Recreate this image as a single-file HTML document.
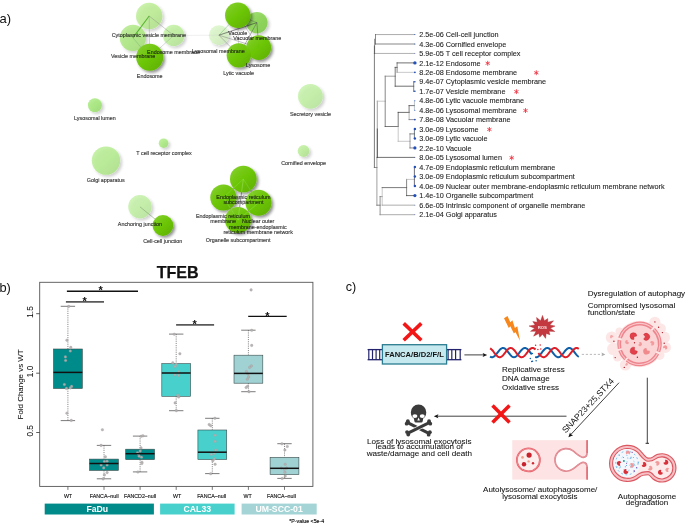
<!DOCTYPE html>
<html lang="en"><head><meta charset="utf-8"><title>Figure</title>
<style>
html,body{margin:0;padding:0;background:#fff;}
body{width:685px;height:523px;overflow:hidden;}
svg{display:block;}
text{font-family:"Liberation Sans",Arial,Helvetica,sans-serif;fill:#1a1a1a;}
.nl{font-size:5.38px;fill:#111;fill-opacity:0.85;stroke:#111;stroke-width:0.18px;stroke-opacity:0.6;}
.dl{font-size:7.26px;fill:#1c1c1c;stroke:#1c1c1c;stroke-width:0.12px;stroke-opacity:0.7;}
.ct{font-size:8px;fill:#111;stroke:#111;stroke-width:0.1px;stroke-opacity:0.6;}
.tk{font-size:5.3px;fill:#111;stroke:#111;stroke-width:0.18px;stroke-opacity:0.7;}
.ax{font-size:8.3px;fill:#111;stroke:#111;stroke-width:0.1px;stroke-opacity:0.6;}
.pl{font-size:13px;fill:#111;}
.bar{font-size:8.7px;font-weight:bold;fill:#fff;}
</style></head><body>
<svg width="685" height="523" viewBox="0 0 685 523">
<defs>
<filter id="sh" x="-30%" y="-30%" width="170%" height="170%">
<feGaussianBlur in="SourceAlpha" stdDeviation="1.5"/><feOffset dx="1.7" dy="1.8"/>
<feComponentTransfer><feFuncA type="linear" slope="0.24"/></feComponentTransfer>
<feMerge><feMergeNode/><feMergeNode in="SourceGraphic"/></feMerge>
</filter>
<filter id="shd" x="-30%" y="-30%" width="170%" height="170%">
<feGaussianBlur in="SourceAlpha" stdDeviation="1.4"/><feOffset dx="1.6" dy="1.9"/>
<feComponentTransfer><feFuncA type="linear" slope="0.45"/></feComponentTransfer>
<feMerge><feMergeNode/><feMergeNode in="SourceGraphic"/></feMerge>
</filter>
<linearGradient id="hd" x1="0.15" y1="0.1" x2="0.85" y2="0.9"><stop offset="0" stop-color="#fff" stop-opacity="0.13"/><stop offset="0.5" stop-color="#fff" stop-opacity="0"/><stop offset="0.5" stop-color="#000" stop-opacity="0"/><stop offset="1" stop-color="#000" stop-opacity="0.09"/></linearGradient>
<linearGradient id="hl" x1="0.15" y1="0.1" x2="0.85" y2="0.9"><stop offset="0" stop-color="#fff" stop-opacity="0.10"/><stop offset="0.5" stop-color="#fff" stop-opacity="0"/><stop offset="0.5" stop-color="#000" stop-opacity="0"/><stop offset="1" stop-color="#000" stop-opacity="0.04"/></linearGradient>
</defs>
<rect width="685" height="523" fill="#fff"/>

<text class="pl" x="-0.6" y="23">a)</text>
<text class="pl" x="-0.6" y="292.4" style="font-size:12.8px">b)</text>
<text class="pl" x="345.8" y="291.0" style="font-size:12.6px">c)</text>
<g id="network">
<g filter="url(#sh)">
<circle cx="149.2" cy="16.0" r="13.2" fill="rgb(181,236,136)" opacity="0.78"/>
<circle cx="132.9" cy="37.9" r="13.1" fill="rgb(167,231,118)" opacity="0.78"/>
<circle cx="173.7" cy="35.5" r="10.7" fill="rgb(184,238,149)" opacity="0.78"/>
<circle cx="218.9" cy="35.2" r="10.0" fill="rgb(213,245,192)" opacity="0.78"/>
<circle cx="256.9" cy="22.6" r="10.7" fill="rgb(131,211,73)" opacity="0.85"/>
<circle cx="94.9" cy="105.2" r="7.0" fill="rgb(156,231,108)" opacity="0.78"/>
<circle cx="163.6" cy="143.2" r="4.8" fill="rgb(161,232,115)" opacity="0.78"/>
<circle cx="106.0" cy="160.6" r="14.2" fill="rgb(174,236,133)" opacity="0.78"/>
<circle cx="310.4" cy="96.3" r="12.4" fill="rgb(188,240,156)" opacity="0.78"/>
<circle cx="303.6" cy="151" r="5.9" fill="rgb(179,236,141)" opacity="0.78"/>
<circle cx="139.95" cy="206.8" r="11.7" fill="rgb(188,240,156)" opacity="0.78"/>
</g><g>
<circle cx="149.2" cy="16.0" r="13.2" fill="url(#hl)"/>
<circle cx="132.9" cy="37.9" r="13.1" fill="url(#hl)"/>
<circle cx="173.7" cy="35.5" r="10.7" fill="url(#hl)"/>
<circle cx="218.9" cy="35.2" r="10.0" fill="url(#hl)"/>
<circle cx="256.9" cy="22.6" r="10.7" fill="url(#hl)"/>
<circle cx="94.9" cy="105.2" r="7.0" fill="url(#hl)"/>
<circle cx="163.6" cy="143.2" r="4.8" fill="url(#hl)"/>
<circle cx="106.0" cy="160.6" r="14.2" fill="url(#hl)"/>
<circle cx="310.4" cy="96.3" r="12.4" fill="url(#hl)"/>
<circle cx="303.6" cy="151" r="5.9" fill="url(#hl)"/>
<circle cx="139.95" cy="206.8" r="11.7" fill="url(#hl)"/>
</g>
<g fill="none">
<line x1="149.2" y1="16.0" x2="132.9" y2="37.9" stroke="#4fae28" stroke-width="1.1" opacity="0.9"/>
<line x1="149.2" y1="16.0" x2="173.7" y2="35.5" stroke="#777" stroke-width="0.5" opacity="0.7"/>
<line x1="149.2" y1="16.0" x2="149.7" y2="57.3" stroke="#888" stroke-width="0.5" opacity="0.7"/>
<line x1="132.9" y1="37.9" x2="149.7" y2="57.3" stroke="#6a6" stroke-width="0.5" opacity="0.7"/>
<line x1="173.7" y1="35.5" x2="149.7" y2="57.3" stroke="#999" stroke-width="0.5" opacity="0.7"/>
<line x1="132.9" y1="37.9" x2="173.7" y2="35.5" stroke="#9c9" stroke-width="0.3" opacity="0.4"/>
<line x1="173.7" y1="35.5" x2="218.9" y2="35.2" stroke="#ccc" stroke-width="0.4" opacity="0.8"/>
<line x1="218.9" y1="35.2" x2="237.75" y2="15.3" stroke="#5a5" stroke-width="0.5" opacity="0.8"/>
<line x1="218.9" y1="35.2" x2="256.9" y2="22.6" stroke="#333" stroke-width="0.7" opacity="0.8"/>
<line x1="218.9" y1="35.2" x2="258.7" y2="47.6" stroke="#666" stroke-width="0.5" opacity="0.8"/>
<line x1="218.9" y1="35.2" x2="238.8" y2="55.35" stroke="#777" stroke-width="0.5" opacity="0.8"/>
<line x1="237.75" y1="15.3" x2="256.9" y2="22.6" stroke="#555" stroke-width="0.5" opacity="0.7"/>
<line x1="237.75" y1="15.3" x2="258.7" y2="47.6" stroke="#666" stroke-width="0.4" opacity="0.7"/>
<line x1="237.75" y1="15.3" x2="238.8" y2="55.35" stroke="#777" stroke-width="0.4" opacity="0.7"/>
<line x1="256.9" y1="22.6" x2="258.7" y2="47.6" stroke="#555" stroke-width="0.6" opacity="0.8"/>
<line x1="256.9" y1="22.6" x2="238.8" y2="55.35" stroke="#555" stroke-width="0.6" opacity="0.8"/>
<line x1="258.7" y1="47.6" x2="238.8" y2="55.35" stroke="#666" stroke-width="0.5" opacity="0.7"/>
<line x1="139.95" y1="206.8" x2="162.9" y2="225.5" stroke="#7a9a6a" stroke-width="0.6" opacity="0.9"/>
<line x1="243.3" y1="179.0" x2="223.4" y2="197.5" stroke="#555" stroke-width="0.5" opacity="0.8"/>
<line x1="243.3" y1="179.0" x2="258.5" y2="202.8" stroke="#555" stroke-width="0.5" opacity="0.8"/>
<line x1="243.3" y1="179.0" x2="238.0" y2="220.0" stroke="#444" stroke-width="0.6" opacity="0.9"/>
<line x1="223.4" y1="197.5" x2="258.5" y2="202.8" stroke="#777" stroke-width="0.4" opacity="0.7"/>
<line x1="223.4" y1="197.5" x2="238.0" y2="220.0" stroke="#555" stroke-width="0.5" opacity="0.8"/>
<line x1="258.5" y1="202.8" x2="238.0" y2="220.0" stroke="#555" stroke-width="0.5" opacity="0.8"/>
</g>
<g filter="url(#shd)">
<circle cx="149.7" cy="57.3" r="13.5" fill="rgb(106,198,0)" opacity="0.96"/>
<circle cx="237.75" cy="15.3" r="12.7" fill="rgb(106,198,0)" opacity="0.96"/>
<circle cx="238.8" cy="55.35" r="12.1" fill="rgb(106,198,0)" opacity="0.96"/>
<circle cx="258.7" cy="47.6" r="12.4" fill="rgb(106,198,0)" opacity="0.96"/>
<circle cx="162.9" cy="225.5" r="10.4" fill="rgb(106,198,0)" opacity="0.96"/>
<circle cx="243.3" cy="179.0" r="13.3" fill="rgb(106,198,0)" opacity="0.96"/>
<circle cx="223.4" cy="197.5" r="13.1" fill="rgb(106,198,0)" opacity="0.96"/>
<circle cx="258.5" cy="202.8" r="13.0" fill="rgb(106,198,0)" opacity="0.96"/>
<circle cx="238.0" cy="220.0" r="13.0" fill="rgb(106,198,0)" opacity="0.96"/>
</g><g>
<circle cx="149.7" cy="57.3" r="13.5" fill="url(#hd)"/>
<circle cx="237.75" cy="15.3" r="12.7" fill="url(#hd)"/>
<circle cx="238.8" cy="55.35" r="12.1" fill="url(#hd)"/>
<circle cx="258.7" cy="47.6" r="12.4" fill="url(#hd)"/>
<circle cx="162.9" cy="225.5" r="10.4" fill="url(#hd)"/>
<circle cx="243.3" cy="179.0" r="13.3" fill="url(#hd)"/>
<circle cx="223.4" cy="197.5" r="13.1" fill="url(#hd)"/>
<circle cx="258.5" cy="202.8" r="13.0" fill="url(#hd)"/>
<circle cx="238.0" cy="220.0" r="13.0" fill="url(#hd)"/>
</g>
<clipPath id="erclip"><circle cx="243.3" cy="179.0" r="13.0"/><circle cx="223.4" cy="197.5" r="12.799999999999999"/><circle cx="258.5" cy="202.8" r="12.7"/><circle cx="238.0" cy="220.0" r="12.7"/></clipPath>
<g fill="none" clip-path="url(#erclip)">
<line x1="243.3" y1="179.0" x2="223.4" y2="197.5" stroke="#8fdc50" stroke-width="0.6" opacity="0.7"/>
<line x1="243.3" y1="179.0" x2="258.5" y2="202.8" stroke="#8fdc50" stroke-width="0.6" opacity="0.7"/>
<line x1="243.3" y1="179.0" x2="238.0" y2="220.0" stroke="#a8e878" stroke-width="0.5" opacity="0.9"/>
<line x1="223.4" y1="197.5" x2="258.5" y2="202.8" stroke="#8fdc50" stroke-width="0.4" opacity="0.7"/>
<line x1="223.4" y1="197.5" x2="238.0" y2="220.0" stroke="#8fdc50" stroke-width="0.6" opacity="0.9"/>
<line x1="258.5" y1="202.8" x2="238.0" y2="220.0" stroke="#8fdc50" stroke-width="0.6" opacity="0.9"/>
</g>
<g class="nl">
<text class="nl" x="148.9" y="37.1" text-anchor="middle">Cytoplasmic vesicle membrane</text>
<text class="nl" x="147.1" y="53.9" text-anchor="start">Endosome membrane</text>
<text class="nl" x="133.1" y="58.2" text-anchor="middle">Vesicle membrane</text>
<text class="nl" x="149.7" y="77.7" text-anchor="middle">Endosome</text>
<text class="nl" x="237.75" y="34.8" text-anchor="middle">Vacuole</text>
<text class="nl" x="257.3" y="40.4" text-anchor="middle">Vacuolar membrane</text>
<text class="nl" x="218.4" y="52.8" text-anchor="middle">Lysosomal membrane</text>
<text class="nl" x="258.0" y="67.3" text-anchor="middle">Lysosome</text>
<text class="nl" x="238.6" y="75.0" text-anchor="middle">Lytic vacuole</text>
<text class="nl" x="94.9" y="119.7" text-anchor="middle">Lysosomal lumen</text>
<text class="nl" x="164.0" y="155.2" text-anchor="middle">T cell receptor complex</text>
<text class="nl" x="105.8" y="181.7" text-anchor="middle">Golgi apparatus</text>
<text class="nl" x="310.5" y="116.1" text-anchor="middle">Secretory vesicle</text>
<text class="nl" x="303.6" y="164.8" text-anchor="middle">Cornified envelope</text>
<text class="nl" x="139.95" y="226.1" text-anchor="middle">Anchoring junction</text>
<text class="nl" x="162.7" y="243.2" text-anchor="middle">Cell-cell junction</text>
<text class="nl" x="243.4" y="199.1" text-anchor="middle">Endoplasmic reticulum</text>
<text class="nl" x="243.4" y="204.2" text-anchor="middle">subcompartment</text>
<text class="nl" x="223.0" y="217.9" text-anchor="middle">Endoplasmic reticulum</text>
<text class="nl" x="223.1" y="222.6" text-anchor="middle">membrane</text>
<text class="nl" x="258.1" y="222.6" text-anchor="middle">Nuclear outer</text>
<text class="nl" x="257.9" y="228.8" text-anchor="middle">membrane-endoplasmic</text>
<text class="nl" x="258.2" y="233.9" text-anchor="middle">reticulum membrane network</text>
<text class="nl" x="238.2" y="241.7" text-anchor="middle">Organelle subcompartment</text>
</g>
</g>
<g id="dendro">
<g class="dl">
<text class="dl" x="419.2" y="37.15">2.5e-06 Cell-cell junction</text>
<text class="dl" x="419.2" y="46.60">4.3e-06 Cornified envelope</text>
<text class="dl" x="419.2" y="56.05">5.9e-05 T cell receptor complex</text>
<text class="dl" x="419.2" y="65.50">2.1e-12 Endosome</text>
<text class="dl" x="419.2" y="74.95">8.2e-08 Endosome membrane</text>
<text class="dl" x="419.2" y="84.40">9.4e-07 Cytoplasmic vesicle membrane</text>
<text class="dl" x="419.2" y="93.85">1.7e-07 Vesicle membrane</text>
<text class="dl" x="419.2" y="103.30">4.8e-06 Lytic vacuole membrane</text>
<text class="dl" x="419.2" y="112.75">4.8e-06 Lysosomal membrane</text>
<text class="dl" x="419.2" y="122.20">7.8e-08 Vacuolar membrane</text>
<text class="dl" x="419.2" y="131.65">3.0e-09 Lysosome</text>
<text class="dl" x="419.2" y="141.10">3.0e-09 Lytic vacuole</text>
<text class="dl" x="419.2" y="150.55">2.2e-10 Vacuole</text>
<text class="dl" x="419.2" y="160.00">8.0e-05 Lysosomal lumen</text>
<text class="dl" x="419.2" y="169.55">4.7e-09 Endoplasmic reticulum membrane</text>
<text class="dl" x="419.2" y="179.10">3.0e-09 Endoplasmic reticulum subcompartment</text>
<text class="dl" x="419.2" y="188.65">4.0e-09 Nuclear outer membrane-endoplasmic reticulum membrane network</text>
<text class="dl" x="419.2" y="198.20">1.4e-10 Organelle subcompartment</text>
<text class="dl" x="419.2" y="207.75">6.6e-05 Intrinsic component of organelle membrane</text>
<text class="dl" x="419.2" y="217.30">2.1e-04 Golgi apparatus</text>
</g>
<g fill="none" stroke-linecap="square">
<line x1="375.50" y1="34.55" x2="414.60" y2="34.55" stroke="#8a8a8a" stroke-width="0.7"/>
<line x1="375.50" y1="44.00" x2="414.60" y2="44.00" stroke="#555" stroke-width="0.7"/>
<line x1="375.50" y1="34.55" x2="375.50" y2="44.00" stroke="#555" stroke-width="0.7"/>
<line x1="374.40" y1="53.45" x2="414.60" y2="53.45" stroke="#a8a8a8" stroke-width="0.9"/>
<line x1="374.60" y1="39.27" x2="374.60" y2="53.45" stroke="#666" stroke-width="0.7"/>
<line x1="374.40" y1="46.00" x2="374.40" y2="167.50" stroke="#444" stroke-width="0.7"/>
<line x1="374.40" y1="167.50" x2="376.90" y2="167.50" stroke="#666" stroke-width="0.7"/>
<line x1="377.30" y1="101.20" x2="377.30" y2="157.40" stroke="#777" stroke-width="0.7"/>
<line x1="377.30" y1="129.00" x2="377.30" y2="157.40" stroke="#333" stroke-width="0.7"/>
<line x1="376.90" y1="157.40" x2="376.90" y2="205.20" stroke="#777" stroke-width="0.7"/>
<line x1="377.30" y1="101.20" x2="385.20" y2="101.20" stroke="#b0b0b0" stroke-width="0.7"/>
<line x1="385.20" y1="76.20" x2="385.20" y2="126.50" stroke="#555" stroke-width="0.7"/>
<line x1="385.20" y1="76.20" x2="395.20" y2="76.20" stroke="#777" stroke-width="0.7"/>
<line x1="395.20" y1="67.40" x2="395.20" y2="86.20" stroke="#444" stroke-width="0.7"/>
<line x1="395.20" y1="67.40" x2="397.10" y2="67.40" stroke="#444" stroke-width="0.7"/>
<line x1="397.10" y1="62.90" x2="397.10" y2="72.35" stroke="#555" stroke-width="0.7"/>
<line x1="397.10" y1="62.90" x2="414.60" y2="62.90" stroke="#333" stroke-width="0.7"/>
<line x1="397.10" y1="72.35" x2="414.60" y2="72.35" stroke="#b0b0b0" stroke-width="0.7"/>
<line x1="395.20" y1="86.20" x2="413.70" y2="86.20" stroke="#333" stroke-width="0.7"/>
<line x1="413.70" y1="81.80" x2="413.70" y2="91.25" stroke="#456" stroke-width="0.7"/>
<line x1="413.70" y1="81.80" x2="414.60" y2="81.80" stroke="#456" stroke-width="0.7"/>
<line x1="413.70" y1="91.25" x2="414.60" y2="91.25" stroke="#456" stroke-width="0.7"/>
<line x1="385.20" y1="126.50" x2="398.20" y2="126.50" stroke="#444" stroke-width="0.7"/>
<line x1="398.20" y1="112.40" x2="398.20" y2="126.50" stroke="#444" stroke-width="0.7"/>
<line x1="398.20" y1="126.50" x2="398.20" y2="141.30" stroke="#b0b0b0" stroke-width="0.7"/>
<line x1="398.20" y1="112.40" x2="409.10" y2="112.40" stroke="#333" stroke-width="0.7"/>
<line x1="409.10" y1="105.60" x2="409.10" y2="112.40" stroke="#444" stroke-width="0.7"/>
<line x1="409.10" y1="112.40" x2="409.10" y2="119.60" stroke="#999" stroke-width="0.7"/>
<line x1="409.10" y1="105.60" x2="414.40" y2="105.60" stroke="#444" stroke-width="0.7"/>
<line x1="414.40" y1="100.70" x2="414.40" y2="110.15" stroke="#789" stroke-width="0.5"/>
<line x1="409.10" y1="119.60" x2="414.60" y2="119.60" stroke="#667" stroke-width="0.7"/>
<line x1="398.20" y1="141.30" x2="410.00" y2="141.30" stroke="#b0b0b0" stroke-width="0.7"/>
<line x1="410.00" y1="133.90" x2="410.00" y2="147.95" stroke="#777" stroke-width="0.7"/>
<line x1="410.00" y1="133.90" x2="414.40" y2="133.90" stroke="#555" stroke-width="0.7"/>
<line x1="414.40" y1="129.05" x2="414.40" y2="138.50" stroke="#345" stroke-width="0.7"/>
<line x1="410.00" y1="147.95" x2="414.60" y2="147.95" stroke="#556" stroke-width="0.7"/>
<line x1="377.30" y1="157.40" x2="414.60" y2="157.40" stroke="#333" stroke-width="0.7"/>
<line x1="376.90" y1="205.20" x2="380.10" y2="205.20" stroke="#555" stroke-width="0.7"/>
<line x1="380.10" y1="196.60" x2="380.10" y2="214.70" stroke="#666" stroke-width="0.7"/>
<line x1="380.10" y1="214.70" x2="414.60" y2="214.70" stroke="#888" stroke-width="0.7"/>
<line x1="380.10" y1="196.60" x2="382.20" y2="196.60" stroke="#777" stroke-width="0.7"/>
<line x1="382.20" y1="187.60" x2="382.20" y2="205.15" stroke="#b0b0b0" stroke-width="0.7"/>
<line x1="382.20" y1="205.15" x2="414.60" y2="205.15" stroke="#888" stroke-width="0.7"/>
<line x1="382.20" y1="187.60" x2="406.60" y2="187.60" stroke="#444" stroke-width="0.7"/>
<line x1="406.60" y1="179.40" x2="406.60" y2="195.60" stroke="#555" stroke-width="0.7"/>
<line x1="406.60" y1="179.40" x2="414.40" y2="179.40" stroke="#b0b0b0" stroke-width="0.7"/>
<line x1="414.40" y1="166.95" x2="414.40" y2="186.05" stroke="#334" stroke-width="0.7"/>
<line x1="406.60" y1="195.60" x2="414.60" y2="195.60" stroke="#333" stroke-width="0.7"/>
</g>
<circle cx="414.90000000000003" cy="34.55" r="0.5" fill="#2350b8"/>
<circle cx="414.90000000000003" cy="44.00" r="0.5" fill="#2350b8"/>
<circle cx="414.90000000000003" cy="53.45" r="0.4" fill="#2350b8"/>
<circle cx="414.90000000000003" cy="62.90" r="1.7" fill="#2350b8"/>
<circle cx="414.90000000000003" cy="72.35" r="0.9" fill="#2350b8"/>
<circle cx="414.90000000000003" cy="81.80" r="0.7" fill="#2350b8"/>
<circle cx="414.90000000000003" cy="91.25" r="0.8" fill="#2350b8"/>
<circle cx="414.90000000000003" cy="100.70" r="0.5" fill="#2350b8"/>
<circle cx="414.90000000000003" cy="110.15" r="0.5" fill="#2350b8"/>
<circle cx="414.90000000000003" cy="119.60" r="0.9" fill="#2350b8"/>
<circle cx="414.90000000000003" cy="129.05" r="1.2" fill="#2350b8"/>
<circle cx="414.90000000000003" cy="138.50" r="1.2" fill="#2350b8"/>
<circle cx="414.90000000000003" cy="147.95" r="1.6" fill="#2350b8"/>
<circle cx="414.90000000000003" cy="157.40" r="0.4" fill="#2350b8"/>
<circle cx="414.90000000000003" cy="166.95" r="1.2" fill="#2350b8"/>
<circle cx="414.90000000000003" cy="176.50" r="1.2" fill="#2350b8"/>
<circle cx="414.90000000000003" cy="186.05" r="1.2" fill="#2350b8"/>
<circle cx="414.90000000000003" cy="195.60" r="1.6" fill="#2350b8"/>
<circle cx="414.90000000000003" cy="205.15" r="0.4" fill="#2350b8"/>
<circle cx="414.90000000000003" cy="214.70" r="0.4" fill="#2350b8"/>
<g stroke="#ee3040" stroke-width="0.85" stroke-linecap="round"><line x1="487.70" y1="61.25" x2="487.70" y2="65.35"/><line x1="489.48" y1="62.27" x2="485.92" y2="64.32"/><line x1="489.48" y1="64.32" x2="485.92" y2="62.27"/></g>
<g stroke="#ee3040" stroke-width="0.85" stroke-linecap="round"><line x1="536.30" y1="70.70" x2="536.30" y2="74.80"/><line x1="538.08" y1="71.72" x2="534.52" y2="73.78"/><line x1="538.08" y1="73.78" x2="534.52" y2="71.72"/></g>
<g stroke="#ee3040" stroke-width="0.85" stroke-linecap="round"><line x1="516.40" y1="89.60" x2="516.40" y2="93.70"/><line x1="518.18" y1="90.62" x2="514.62" y2="92.68"/><line x1="518.18" y1="92.68" x2="514.62" y2="90.62"/></g>
<g stroke="#ee3040" stroke-width="0.85" stroke-linecap="round"><line x1="525.50" y1="108.50" x2="525.50" y2="112.60"/><line x1="527.28" y1="109.52" x2="523.72" y2="111.58"/><line x1="527.28" y1="111.58" x2="523.72" y2="109.52"/></g>
<g stroke="#ee3040" stroke-width="0.85" stroke-linecap="round"><line x1="489.40" y1="127.40" x2="489.40" y2="131.50"/><line x1="491.18" y1="128.43" x2="487.62" y2="130.48"/><line x1="491.18" y1="130.48" x2="487.62" y2="128.43"/></g>
<g stroke="#ee3040" stroke-width="0.85" stroke-linecap="round"><line x1="511.70" y1="155.75" x2="511.70" y2="159.85"/><line x1="513.48" y1="156.77" x2="509.92" y2="158.82"/><line x1="513.48" y1="158.82" x2="509.92" y2="156.77"/></g>
</g>
<g id="boxplot">
<text x="177.7" y="278.1" text-anchor="middle" style="font-size:16.1px;font-weight:bold;fill:#111;stroke:#111;stroke-width:0.25px">TFEB</text>
<rect x="39.7" y="282.3" width="273.2" height="204.09999999999997" fill="none" stroke="#555" stroke-width="0.9"/>
<line x1="36.2" y1="313.7" x2="39.7" y2="313.7" stroke="#333" stroke-width="0.8"/>
<text class="ax" transform="translate(32.9,312.0) rotate(-90)" text-anchor="middle">1.5</text>
<line x1="36.2" y1="373.2" x2="39.7" y2="373.2" stroke="#333" stroke-width="0.8"/>
<text class="ax" transform="translate(32.9,371.5) rotate(-90)" text-anchor="middle">1.0</text>
<line x1="36.2" y1="432.5" x2="39.7" y2="432.5" stroke="#333" stroke-width="0.8"/>
<text class="ax" transform="translate(32.9,430.8) rotate(-90)" text-anchor="middle">0.5</text>
<text class="ax" transform="translate(22.9,384.4) rotate(-90)" text-anchor="middle" style="font-size:7.95px">Fold Change vs WT</text>
<line x1="67.9" y1="486.4" x2="67.9" y2="489.9" stroke="#555" stroke-width="0.8"/>
<text class="tk" x="68.0" y="497.8" text-anchor="middle">WT</text>
<line x1="104.0" y1="486.4" x2="104.0" y2="489.9" stroke="#555" stroke-width="0.8"/>
<text class="tk" x="104.2" y="497.8" text-anchor="middle">FANCA–null</text>
<line x1="140.1" y1="486.4" x2="140.1" y2="489.9" stroke="#555" stroke-width="0.8"/>
<text class="tk" x="140.0" y="497.8" text-anchor="middle">FANCD2–null</text>
<line x1="176.2" y1="486.4" x2="176.2" y2="489.9" stroke="#555" stroke-width="0.8"/>
<text class="tk" x="177.2" y="497.8" text-anchor="middle">WT</text>
<line x1="212.3" y1="486.4" x2="212.3" y2="489.9" stroke="#555" stroke-width="0.8"/>
<text class="tk" x="211.6" y="497.8" text-anchor="middle">FANCA–null</text>
<line x1="248.4" y1="486.4" x2="248.4" y2="489.9" stroke="#555" stroke-width="0.8"/>
<text class="tk" x="247.6" y="497.8" text-anchor="middle">WT</text>
<line x1="284.5" y1="486.4" x2="284.5" y2="489.9" stroke="#555" stroke-width="0.8"/>
<text class="tk" x="281.4" y="497.8" text-anchor="middle">FANCA–null</text>
<line x1="67.9" y1="306.3" x2="67.9" y2="349.0" stroke="#555" stroke-width="0.7" stroke-dasharray="1.1 1.1"/>
<line x1="67.9" y1="388.5" x2="67.9" y2="420.6" stroke="#555" stroke-width="0.7" stroke-dasharray="1.1 1.1"/>
<line x1="60.7" y1="306.3" x2="75.1" y2="306.3" stroke="#444" stroke-width="0.7"/>
<line x1="60.7" y1="420.6" x2="75.1" y2="420.6" stroke="#444" stroke-width="0.7"/>
<rect x="53.5" y="349.0" width="28.8" height="39.5" fill="#008b8b" stroke="#3a4a4a" stroke-width="0.6"/>
<line x1="104.0" y1="445.4" x2="104.0" y2="459.1" stroke="#555" stroke-width="0.7" stroke-dasharray="1.1 1.1"/>
<line x1="104.0" y1="470.4" x2="104.0" y2="478.8" stroke="#555" stroke-width="0.7" stroke-dasharray="1.1 1.1"/>
<line x1="96.8" y1="445.4" x2="111.2" y2="445.4" stroke="#444" stroke-width="0.7"/>
<line x1="96.8" y1="478.8" x2="111.2" y2="478.8" stroke="#444" stroke-width="0.7"/>
<rect x="89.6" y="459.1" width="28.8" height="11.3" fill="#008b8b" stroke="#3a4a4a" stroke-width="0.6"/>
<line x1="140.1" y1="436.1" x2="140.1" y2="449.2" stroke="#555" stroke-width="0.7" stroke-dasharray="1.1 1.1"/>
<line x1="140.1" y1="459.6" x2="140.1" y2="471.9" stroke="#555" stroke-width="0.7" stroke-dasharray="1.1 1.1"/>
<line x1="132.9" y1="436.1" x2="147.3" y2="436.1" stroke="#444" stroke-width="0.7"/>
<line x1="132.9" y1="471.9" x2="147.3" y2="471.9" stroke="#444" stroke-width="0.7"/>
<rect x="125.7" y="449.2" width="28.8" height="10.4" fill="#008b8b" stroke="#3a4a4a" stroke-width="0.6"/>
<line x1="176.2" y1="334.1" x2="176.2" y2="363.6" stroke="#555" stroke-width="0.7" stroke-dasharray="1.1 1.1"/>
<line x1="176.2" y1="396.3" x2="176.2" y2="410.7" stroke="#555" stroke-width="0.7" stroke-dasharray="1.1 1.1"/>
<line x1="169.0" y1="334.1" x2="183.4" y2="334.1" stroke="#444" stroke-width="0.7"/>
<line x1="169.0" y1="410.7" x2="183.4" y2="410.7" stroke="#444" stroke-width="0.7"/>
<rect x="161.8" y="363.6" width="28.8" height="32.7" fill="#48d1cc" stroke="#3a4a4a" stroke-width="0.6"/>
<line x1="212.3" y1="418.3" x2="212.3" y2="430.0" stroke="#555" stroke-width="0.7" stroke-dasharray="1.1 1.1"/>
<line x1="212.3" y1="459.5" x2="212.3" y2="473.6" stroke="#555" stroke-width="0.7" stroke-dasharray="1.1 1.1"/>
<line x1="205.1" y1="418.3" x2="219.5" y2="418.3" stroke="#444" stroke-width="0.7"/>
<line x1="205.1" y1="473.6" x2="219.5" y2="473.6" stroke="#444" stroke-width="0.7"/>
<rect x="197.9" y="430.0" width="28.8" height="29.5" fill="#48d1cc" stroke="#3a4a4a" stroke-width="0.6"/>
<line x1="248.4" y1="330.2" x2="248.4" y2="355.2" stroke="#555" stroke-width="0.7" stroke-dasharray="1.1 1.1"/>
<line x1="248.4" y1="383.2" x2="248.4" y2="391.7" stroke="#555" stroke-width="0.7" stroke-dasharray="1.1 1.1"/>
<line x1="241.2" y1="330.2" x2="255.6" y2="330.2" stroke="#444" stroke-width="0.7"/>
<line x1="241.2" y1="391.7" x2="255.6" y2="391.7" stroke="#444" stroke-width="0.7"/>
<rect x="234.0" y="355.2" width="28.8" height="28.0" fill="#a0d2d4" stroke="#3a4a4a" stroke-width="0.6"/>
<line x1="284.5" y1="443.7" x2="284.5" y2="457.3" stroke="#555" stroke-width="0.7" stroke-dasharray="1.1 1.1"/>
<line x1="284.5" y1="474.6" x2="284.5" y2="478.4" stroke="#555" stroke-width="0.7" stroke-dasharray="1.1 1.1"/>
<line x1="277.3" y1="443.7" x2="291.7" y2="443.7" stroke="#444" stroke-width="0.7"/>
<line x1="277.3" y1="478.4" x2="291.7" y2="478.4" stroke="#444" stroke-width="0.7"/>
<rect x="270.1" y="457.3" width="28.8" height="17.3" fill="#a0d2d4" stroke="#3a4a4a" stroke-width="0.6"/>
<g fill="#b6b0b0" stroke="#9a9696" stroke-width="0.3" opacity="0.92">
<circle cx="68.7" cy="306.4" r="1.3"/>
<circle cx="66.9" cy="340.2" r="1.3"/>
<circle cx="70.8" cy="347.4" r="1.3"/>
<circle cx="70.3" cy="351" r="1.3"/>
<circle cx="65.4" cy="356.9" r="1.3"/>
<circle cx="65.6" cy="360.5" r="1.3"/>
<circle cx="64.4" cy="384.5" r="1.3"/>
<circle cx="71.6" cy="386.4" r="1.3"/>
<circle cx="70.3" cy="387.9" r="1.3"/>
<circle cx="66.4" cy="388.4" r="1.3"/>
<circle cx="66.9" cy="413.2" r="1.3"/>
<circle cx="71.3" cy="420.4" r="1.3"/>
<circle cx="102.4" cy="429.8" r="1.3"/>
<circle cx="101.1" cy="445.4" r="1.3"/>
<circle cx="105.4" cy="456.8" r="1.3"/>
<circle cx="104.4" cy="461.5" r="1.3"/>
<circle cx="107.1" cy="461.2" r="1.3"/>
<circle cx="101.1" cy="464.9" r="1.3"/>
<circle cx="107.1" cy="464.9" r="1.3"/>
<circle cx="103.7" cy="467.9" r="1.3"/>
<circle cx="107.1" cy="472.6" r="1.3"/>
<circle cx="104.4" cy="474.9" r="1.3"/>
<circle cx="103.1" cy="478.9" r="1.3"/>
<circle cx="141.2" cy="436.3" r="1.3"/>
<circle cx="142.9" cy="435.8" r="1.3"/>
<circle cx="141" cy="447.9" r="1.3"/>
<circle cx="140.2" cy="451.1" r="1.3"/>
<circle cx="137.5" cy="452.8" r="1.3"/>
<circle cx="138.6" cy="454.2" r="1.3"/>
<circle cx="139.2" cy="456.2" r="1.3"/>
<circle cx="141.5" cy="457.2" r="1.3"/>
<circle cx="141.9" cy="462.2" r="1.3"/>
<circle cx="141.9" cy="463.5" r="1.3"/>
<circle cx="137.9" cy="472" r="1.3"/>
<circle cx="174.3" cy="334.2" r="1.3"/>
<circle cx="179.9" cy="353.7" r="1.3"/>
<circle cx="172.8" cy="362.9" r="1.3"/>
<circle cx="176.3" cy="364.4" r="1.3"/>
<circle cx="175.1" cy="366.5" r="1.3"/>
<circle cx="178.7" cy="371.8" r="1.3"/>
<circle cx="174.9" cy="374.8" r="1.3"/>
<circle cx="178.7" cy="375.4" r="1.3"/>
<circle cx="177.8" cy="395.2" r="1.3"/>
<circle cx="178.7" cy="397" r="1.3"/>
<circle cx="175.1" cy="402.9" r="1.3"/>
<circle cx="176.3" cy="410.6" r="1.3"/>
<circle cx="214.9" cy="418.3" r="1.3"/>
<circle cx="209.2" cy="424.6" r="1.3"/>
<circle cx="210.7" cy="425.7" r="1.3"/>
<circle cx="215.1" cy="435.2" r="1.3"/>
<circle cx="215.1" cy="441.4" r="1.3"/>
<circle cx="215.7" cy="450" r="1.3"/>
<circle cx="214.3" cy="453.3" r="1.3"/>
<circle cx="211.3" cy="454.5" r="1.3"/>
<circle cx="214.3" cy="458.9" r="1.3"/>
<circle cx="212.8" cy="460.7" r="1.3"/>
<circle cx="215.1" cy="464.3" r="1.3"/>
<circle cx="210.7" cy="473.7" r="1.3"/>
<circle cx="251.7" cy="330.3" r="1.3"/>
<circle cx="251.7" cy="345.4" r="1.3"/>
<circle cx="251.4" cy="365.9" r="1.3"/>
<circle cx="249.6" cy="367.4" r="1.3"/>
<circle cx="246.4" cy="371.5" r="1.3"/>
<circle cx="247.9" cy="373.9" r="1.3"/>
<circle cx="248.7" cy="376.9" r="1.3"/>
<circle cx="247.3" cy="379.2" r="1.3"/>
<circle cx="247.6" cy="386.3" r="1.3"/>
<circle cx="246.1" cy="387.5" r="1.3"/>
<circle cx="249" cy="391.7" r="1.3"/>
<circle cx="251.1" cy="289.9" r="1.3"/>
<circle cx="281.9" cy="443.8" r="1.3"/>
<circle cx="287.3" cy="446.5" r="1.3"/>
<circle cx="284.9" cy="450" r="1.3"/>
<circle cx="285.2" cy="464.3" r="1.3"/>
<circle cx="281.3" cy="468.1" r="1.3"/>
<circle cx="286.7" cy="468.1" r="1.3"/>
<circle cx="284.3" cy="469.3" r="1.3"/>
<circle cx="284.9" cy="472.3" r="1.3"/>
<circle cx="285.2" cy="476.1" r="1.3"/>
<circle cx="282.2" cy="478.5" r="1.3"/>
</g>
<line x1="53.5" y1="372.4" x2="82.3" y2="372.4" stroke="#111" stroke-width="1.5"/>
<line x1="89.6" y1="463.5" x2="118.4" y2="463.5" stroke="#111" stroke-width="1.5"/>
<line x1="125.7" y1="453.7" x2="154.5" y2="453.7" stroke="#111" stroke-width="1.5"/>
<line x1="161.8" y1="373.0" x2="190.6" y2="373.0" stroke="#111" stroke-width="1.5"/>
<line x1="197.9" y1="452.2" x2="226.7" y2="452.2" stroke="#111" stroke-width="1.5"/>
<line x1="234.0" y1="373.4" x2="262.8" y2="373.4" stroke="#111" stroke-width="1.5"/>
<line x1="270.1" y1="468.3" x2="298.9" y2="468.3" stroke="#111" stroke-width="1.5"/>
<line x1="66.9" y1="291.25" x2="138" y2="291.25" stroke="#111" stroke-width="1.3"/>
<text x="100.7" y="294.0" text-anchor="middle" style="font-size:11px;font-weight:bold;fill:#111">*</text>
<line x1="65.9" y1="301.9" x2="104.0" y2="301.9" stroke="#5a5a5a" stroke-width="1.7"/>
<text x="84.6" y="305.1" text-anchor="middle" style="font-size:11px;font-weight:bold;fill:#111">*</text>
<line x1="176.1" y1="324.8" x2="214.1" y2="324.8" stroke="#5a5a5a" stroke-width="1.7"/>
<text x="194.7" y="328.0" text-anchor="middle" style="font-size:11px;font-weight:bold;fill:#111">*</text>
<line x1="248.2" y1="316.3" x2="286.7" y2="316.3" stroke="#111" stroke-width="1.3"/>
<text x="267.3" y="319.5" text-anchor="middle" style="font-size:11px;font-weight:bold;fill:#111">*</text>
<rect x="44.7" y="503.6" width="109.2" height="10.9" fill="#008b8b"/>
<text class="bar" x="97.3" y="512.4" text-anchor="middle">FaDu</text>
<rect x="160.1" y="503.6" width="74.5" height="10.9" fill="#48d1cc"/>
<text class="bar" x="197.3" y="512.4" text-anchor="middle">CAL33</text>
<rect x="241.6" y="503.6" width="75.1" height="10.9" fill="#a4d4d6"/>
<text class="bar" x="279.1" y="512.4" text-anchor="middle">UM-SCC-01</text>
<text x="289.3" y="522.6" style="font-size:5.25px;fill:#111;stroke:#111;stroke-width:0.15px">*P-value &lt;5e-4</text>
</g><g id="panelc">
<g stroke="#f21616" stroke-width="3.6" stroke-linecap="butt"><line x1="403.7" y1="323.40000000000003" x2="421.3" y2="340.2"/><line x1="403.7" y1="340.2" x2="421.3" y2="323.40000000000003"/></g>
<g stroke="#24246e" stroke-width="1.3" fill="none"><line x1="367.6" y1="349.6" x2="382.4" y2="349.6"/><line x1="367.6" y1="359.7" x2="382.4" y2="359.7"/>
<line x1="368.80" y1="349.6" x2="368.80" y2="359.7" stroke-width="1.2"/>
<line x1="372.50" y1="349.6" x2="372.50" y2="359.7" stroke-width="1.2"/>
<line x1="376.10" y1="349.6" x2="376.10" y2="359.7" stroke-width="1.2"/>
<line x1="379.70" y1="349.6" x2="379.70" y2="359.7" stroke-width="1.2"/>
</g>
<g stroke="#24246e" stroke-width="1.3" fill="none"><line x1="446.6" y1="349.6" x2="461.4" y2="349.6"/><line x1="446.6" y1="359.7" x2="461.4" y2="359.7"/>
<line x1="448.10" y1="349.6" x2="448.10" y2="359.7" stroke-width="1.2"/>
<line x1="451.80" y1="349.6" x2="451.80" y2="359.7" stroke-width="1.2"/>
<line x1="455.60" y1="349.6" x2="455.60" y2="359.7" stroke-width="1.2"/>
<line x1="460.20" y1="349.6" x2="460.20" y2="359.7" stroke-width="1.2"/>
</g>
<rect x="382.4" y="344.7" width="64.2" height="19.3" fill="#c6e9ef" stroke="#2a7d90" stroke-width="1.3"/>
<text x="414.4" y="357.2" text-anchor="middle" style="font-size:7.57px;font-weight:bold;fill:#111">FANCA/B/D2/F/L</text>
<line x1="464.4" y1="354.9" x2="484" y2="354.9" stroke="#111" stroke-width="0.8"/>
<path d="M487.2 354.9 L482.6 352.9 L483.6 354.9 L482.6 356.9 Z" fill="#111"/>
<polyline points="490.10,356.52 490.50,356.77 490.90,356.96 491.30,357.10 491.70,357.18 492.10,357.20 492.51,357.16 492.91,357.05 493.31,356.89 493.71,356.68 494.11,356.41 494.51,356.08 494.91,355.72 495.31,355.31 495.71,354.87 496.11,354.39 496.52,353.90 496.92,353.38 497.32,352.86 497.72,352.33 498.12,351.81 498.52,351.29 498.92,350.80 499.32,350.32 499.72,349.88 500.12,349.47 500.52,349.11 500.93,348.79 501.33,348.52 501.73,348.30 502.13,348.14 502.53,348.04 502.93,348.00 503.33,348.02 503.73,348.10 504.13,348.24 504.53,348.44 504.94,348.69 505.34,348.99 505.74,349.34 506.14,349.73 506.54,350.17 506.94,350.63 507.34,351.12 507.74,351.63 508.14,352.15 508.54,352.67 508.95,353.20 509.35,353.72 509.75,354.22 510.15,354.71 510.55,355.16 510.95,355.58 511.35,355.96 511.75,356.30 512.15,356.59 512.55,356.82 512.95,357.01 513.36,357.13 513.76,357.19 514.16,357.19 514.56,357.14 514.96,357.02 515.36,356.84 515.76,356.61 516.16,356.33 516.56,355.99 516.96,355.62 517.37,355.20 517.77,354.75 518.17,354.27 518.57,353.76 518.97,353.25 519.37,352.72 519.77,352.19 520.17,351.67 520.57,351.16 520.97,350.67 521.38,350.21 521.78,349.77 522.18,349.37 522.58,349.02 522.98,348.71 523.38,348.46 523.78,348.26 524.18,348.11 524.58,348.03 524.98,348.00 525.38,348.04 525.79,348.13 526.19,348.29 526.59,348.50 526.99,348.76 527.39,349.08 527.79,349.44 528.19,349.84 528.59,350.28 528.99,350.75 529.39,351.25 529.80,351.76 530.20,352.28 530.60,352.81 531.00,353.33 531.40,353.85 531.80,354.35" fill="none" stroke="#0e5fa8" stroke-width="2.0" stroke-linecap="butt"/>
<polyline points="490.10,348.36 490.50,348.60 490.91,348.89 491.31,349.22 491.71,349.61 492.11,350.03 492.52,350.48 492.92,350.97 493.32,351.47 493.72,351.99 494.13,352.52 494.53,353.05 494.93,353.57 495.33,354.08 495.74,354.57 496.14,355.04 496.54,355.47 496.95,355.87 497.35,356.22 497.75,356.52 498.15,356.77 498.56,356.97 498.96,357.10 499.36,357.18 499.76,357.20 500.17,357.15 500.57,357.05 500.97,356.89 501.37,356.67 501.78,356.39 502.18,356.07 502.58,355.70 502.98,355.29 503.39,354.84 503.79,354.36 504.19,353.86 504.60,353.34 505.00,352.82 505.40,352.29 505.80,351.76 506.21,351.25 506.61,350.75 507.01,350.28 507.41,349.84 507.82,349.43 508.22,349.07 508.62,348.75 509.02,348.49 509.43,348.28 509.83,348.13 510.23,348.03 510.64,348.00 511.04,348.03 511.44,348.12 511.84,348.27 512.25,348.47 512.65,348.73 513.05,349.04 513.45,349.40 513.86,349.81 514.26,350.24 514.66,350.71 515.06,351.21 515.47,351.72 515.87,352.25 516.27,352.78 516.68,353.31 517.08,353.82 517.48,354.33 517.88,354.80 518.29,355.25 518.69,355.67 519.09,356.04 519.49,356.37 519.90,356.65 520.30,356.87 520.70,357.04 521.10,357.15 521.51,357.20 521.91,357.18 522.31,357.11 522.72,356.98 523.12,356.79 523.52,356.54 523.92,356.24 524.33,355.89 524.73,355.50 525.13,355.07 525.53,354.61 525.94,354.12 526.34,353.61 526.74,353.09 527.14,352.56 527.55,352.03 527.95,351.51 528.35,351.00 528.75,350.52 529.16,350.06 529.56,349.63 529.96,349.25 530.37,348.91 530.77,348.62 531.17,348.38 531.57,348.20 531.98,348.07 532.38,348.01 532.78,348.01 533.18,348.06 533.59,348.18 533.99,348.36 534.39,348.59 534.79,348.88 535.20,349.21 535.60,349.59" fill="none" stroke="#dc1e28" stroke-width="2.0" stroke-linecap="butt"/>
<polyline points="535.20,356.97 535.60,357.11 536.01,357.18 536.41,357.20 536.81,357.15 537.22,357.04 537.62,356.88 538.03,356.65 538.43,356.38 538.83,356.05 539.24,355.67 539.64,355.26 540.04,354.81 540.45,354.33 540.85,353.83 541.26,353.31 541.66,352.78 542.06,352.25 542.47,351.73 542.87,351.22 543.27,350.72 543.68,350.25 544.08,349.81 544.49,349.41 544.89,349.05 545.29,348.74 545.70,348.47 546.10,348.27 546.50,348.12 546.91,348.03 547.31,348.00 547.71,348.03 548.12,348.13 548.52,348.28 548.93,348.49 549.33,348.75 549.73,349.07 550.14,349.43 550.54,349.83 550.94,350.27 551.35,350.75 551.75,351.24 552.16,351.76 552.56,352.28 552.96,352.81 553.37,353.34 553.77,353.86 554.17,354.36 554.58,354.84 554.98,355.28 555.39,355.70 555.79,356.07 556.19,356.39 556.60,356.67 557.00,356.89 557.40,357.05 557.81,357.15 558.21,357.20 558.61,357.18 559.02,357.10 559.42,356.97 559.83,356.77 560.23,356.52 560.63,356.22 561.04,355.86 561.44,355.47 561.84,355.04 562.25,354.57 562.65,354.08 563.06,353.57 563.46,353.05 563.86,352.52 564.27,351.99 564.67,351.47 565.07,350.96 565.48,350.48 565.88,350.02 566.29,349.60 566.69,349.22 567.09,348.88 567.50,348.60 567.90,348.36 568.30,348.18 568.71,348.07 569.11,348.01 569.51,348.01 569.92,348.07 570.32,348.19 570.73,348.38 571.13,348.61 571.53,348.90 571.94,349.24 572.34,349.63 572.74,350.05 573.15,350.51 573.55,350.99 573.96,351.50 574.36,352.02 574.76,352.55 575.17,353.08 575.57,353.60 575.97,354.11 576.38,354.60 576.78,355.07 577.19,355.50 577.59,355.89 577.99,356.24 578.40,356.54 578.80,356.78" fill="none" stroke="#0e5fa8" stroke-width="2.0" stroke-linecap="butt"/>
<polyline points="538.40,352.99 538.80,353.52 539.21,354.03 539.61,354.53 540.02,354.99 540.42,355.43 540.82,355.83 541.23,356.18 541.63,356.49 542.04,356.75 542.44,356.95 542.84,357.09 543.25,357.18 543.65,357.20 544.06,357.16 544.46,357.06 544.86,356.90 545.27,356.69 545.67,356.42 546.08,356.10 546.48,355.73 546.88,355.32 547.29,354.88 547.69,354.40 548.10,353.90 548.50,353.38 548.90,352.86 549.31,352.33 549.71,351.80 550.12,351.28 550.52,350.79 550.92,350.31 551.33,349.87 551.73,349.46 552.14,349.09 552.54,348.77 552.94,348.50 553.35,348.29 553.75,348.13 554.16,348.04 554.56,348.00 554.96,348.02 555.37,348.11 555.77,348.26 556.18,348.46 556.58,348.72 556.98,349.03 557.39,349.38 557.79,349.78 558.20,350.22 558.60,350.69 559.00,351.18 559.41,351.70 559.81,352.22 560.22,352.75 560.62,353.28 561.02,353.80 561.43,354.30 561.83,354.78 562.24,355.24 562.64,355.65 563.04,356.03 563.45,356.36 563.85,356.64 564.26,356.87 564.66,357.04 565.06,357.15 565.47,357.20 565.87,357.19 566.28,357.11 566.68,356.98 567.08,356.79 567.49,356.55 567.89,356.25 568.30,355.90 568.70,355.51 569.10,355.08 569.51,354.62 569.91,354.13 570.32,353.62 570.72,353.10 571.12,352.57 571.53,352.04 571.93,351.52 572.34,351.01 572.74,350.52 573.14,350.06 573.55,349.64 573.95,349.25 574.36,348.91 574.76,348.62 575.16,348.38 575.57,348.20 575.97,348.07 576.38,348.01 576.78,348.01 577.18,348.06 577.59,348.18 577.99,348.36 578.40,348.59 578.80,348.88" fill="none" stroke="#dc1e28" stroke-width="2.0" stroke-linecap="butt"/>
<circle cx="535.6" cy="345.3" r="0.75" fill="#dc1e28"/>
<circle cx="540.2" cy="345.0" r="0.75" fill="#dc1e28"/>
<circle cx="540.8" cy="348.9" r="0.75" fill="#dc1e28"/>
<circle cx="537.9" cy="349.6" r="0.75" fill="#dc1e28"/>
<circle cx="530.3" cy="358.6" r="0.75" fill="#0e5fa8"/>
<circle cx="532.4" cy="353.6" r="0.75" fill="#0e5fa8"/>
<circle cx="531.7" cy="361.4" r="0.75" fill="#0e5fa8"/>
<circle cx="536.1" cy="360.8" r="0.75" fill="#0e5fa8"/>
<circle cx="532.5" cy="361.2" r="0.75" fill="#0e5fa8"/>
<path d="M504.0 318.2 L507.5 316.0 L510.3 322.3 L512.4 320.3 L514.9 327.9 L517.3 326.2 L520.0 340.7 L515.4 332.0 L513.9 333.5 L510.3 326.2 L508.8 327.9 Z" fill="#f7871a"/>
<polygon points="542.50,315.39 544.39,320.73 547.80,318.62 547.74,322.26 553.53,320.78 549.89,324.96 555.01,326.08 550.34,328.23 554.84,331.47 549.00,331.30 549.93,334.69 546.17,333.49 545.61,338.38 542.50,334.27 539.72,337.20 538.83,333.49 533.61,336.13 536.00,331.30 530.53,331.35 534.66,328.23 529.00,325.97 535.11,324.96 532.79,321.57 537.26,322.26 536.55,317.54 540.61,320.73" fill="#c4393f" stroke="#a8262e" stroke-width="0.4" stroke-linejoin="miter"/>
<text x="542.3" y="329.0" text-anchor="middle" style="font-size:4.3px;font-weight:bold;fill:#fbe6e6">ROS</text>
<text class="ct" x="502" y="372.3">Replicative stress</text>
<text class="ct" x="502" y="381.0">DNA damage</text>
<text class="ct" x="502" y="390.3">Oxidative stress</text>
<line x1="581.8" y1="354.4" x2="602" y2="354.4" stroke="#aaa" stroke-width="0.8" stroke-dasharray="2.2 1.8"/>
<path d="M605.4 354.4 L601.4 352.6 L602.2 354.4 L601.4 356.2 Z" fill="#aaa"/>
<text class="ct" x="587.7" y="295.5">Dysregulation of autophagy</text>
<text class="ct" x="587.7" y="308.0">Compromised lysosomal</text>
<text class="ct" x="587.7" y="314.6">function/state</text>
<g id="lyso">
<g fill="#fde6e6">
<circle cx="639.5" cy="344.0" r="23.3"/>
<circle cx="654.9" cy="322.3" r="5.6"/>
<circle cx="660.3" cy="328.8" r="5.6"/>
<circle cx="664.0" cy="337.5" r="6.0"/>
<circle cx="665.4" cy="347.4" r="5.6"/>
<circle cx="659.5" cy="355" r="5"/>
<circle cx="611.8" cy="337.6" r="6.0"/>
<circle cx="613.4" cy="349.0" r="6.2"/>
<circle cx="617.5" cy="357" r="4.6"/>
<circle cx="625.4" cy="365.0" r="5.6"/>
<circle cx="619.5" cy="331.5" r="4"/>
</g>
<circle cx="639.5" cy="344.0" r="18.6" fill="#fbd4d5"/>
<path d="M620.04 338.05 A20.35 20.35 0 0 1 652.03 327.96" fill="none" stroke="#ee858d" stroke-width="3.8"/>
<path d="M619.98 337.73 A20.5 20.5 0 0 1 651.89 327.67" fill="none" stroke="#f9c6c9" stroke-width="1.1"/>
<path d="M653.64 329.36 A20.35 20.35 0 0 1 658.37 351.62" fill="none" stroke="#ee858d" stroke-width="3.8"/>
<path d="M653.95 329.45 A20.5 20.5 0 0 1 658.61 351.41" fill="none" stroke="#f9c6c9" stroke-width="1.1"/>
<path d="M657.47 353.55 A20.35 20.35 0 0 1 626.97 360.04" fill="none" stroke="#ee858d" stroke-width="3.8"/>
<path d="M657.46 353.88 A20.5 20.5 0 0 1 627.11 360.33" fill="none" stroke="#f9c6c9" stroke-width="1.1"/>
<path d="M625.62 358.88 A20.35 20.35 0 0 1 620.15 350.29" fill="none" stroke="#ee858d" stroke-width="3.8"/>
<path d="M625.31 358.80 A20.5 20.5 0 0 1 620.09 350.61" fill="none" stroke="#f9c6c9" stroke-width="1.1"/>
<path d="M619.67 348.58 A20.35 20.35 0 0 1 619.52 340.12" fill="none" stroke="#ee858d" stroke-width="3.8"/>
<path d="M619.46 348.33 A20.5 20.5 0 0 1 619.32 340.37" fill="none" stroke="#f9c6c9" stroke-width="1.1"/>
<path d="M634.05 336.65 L633.87 339.47 A3.4 3.4 0 1 1 636.80 335.98 Z" fill="#e2404a" stroke="#c8232e" stroke-width="0.4"/>
<path d="M645.33 336.80 L643.60 334.46 A3.5 3.5 0 1 1 643.60 339.14 Z" fill="#e2404a" stroke="#c8232e" stroke-width="0.4"/>
<path d="M634.54 350.28 L637.37 351.24 A3.6 3.6 0 1 1 634.61 347.29 Z" fill="#e2404a" stroke="#c8232e" stroke-width="0.4"/>
<path d="M647.03 350.57 L649.77 350.74 A3.3 3.3 0 1 1 646.38 347.90 Z" fill="#f08a8c"/>
<path d="M627.53 341.85 L629.06 342.52 A2.0 2.0 0 1 1 627.72 340.20 Z" fill="#f29a9c"/>
<path d="M639.53 343.93 L639.06 342.33 A2.0 2.0 0 1 1 638.15 344.85 Z" fill="#f29a9c"/>
<path d="M651.58 343.39 L650.06 342.38 A2.2 2.2 0 1 1 651.07 345.14 Z" fill="#f29a9c"/>
<path d="M664.93 347.98 L663.11 348.18 A2.2 2.2 0 1 1 665.66 349.65 Z" fill="#f29a9c"/>
<path d="M611.91 337.17 L611.35 338.46 A1.7 1.7 0 1 1 613.32 337.33 Z" fill="#f4a8aa"/>
<path d="M626.05 364.07 L625.70 362.88 A1.5 1.5 0 1 1 625.01 364.76 Z" fill="#f4a8aa"/>
<circle cx="654.9" cy="321.9" r="0.7" fill="#b01e2a"/>
<circle cx="658.6" cy="327.3" r="0.7" fill="#b01e2a"/>
<circle cx="662.4" cy="332.6" r="0.7" fill="#b01e2a"/>
<circle cx="664.2" cy="343.3" r="0.7" fill="#b01e2a"/>
<circle cx="613.9" cy="341.2" r="0.7" fill="#b01e2a"/>
<circle cx="615.2" cy="357.6" r="0.7" fill="#b01e2a"/>
<circle cx="624.3" cy="367.4" r="0.7" fill="#b01e2a"/>
<circle cx="634.5" cy="342.8" r="0.7" fill="#b01e2a"/>
<circle cx="637.4" cy="357.3" r="0.7" fill="#b01e2a"/>
</g>
<line x1="647.3" y1="377.7" x2="647.3" y2="443.3" stroke="#111" stroke-width="0.8"/>
<line x1="645.6" y1="443.3" x2="649" y2="443.3" stroke="#111" stroke-width="0.9"/>
<line x1="619.0" y1="382.7" x2="570.5" y2="434.9" stroke="#111" stroke-width="0.8"/>
<path d="M568.4 437.2 L570.0 432.4 L571.0 434.4 L573.1 435.2 Z" fill="#111"/>
<text transform="translate(565.7,433.6) rotate(-46.8)" style="font-size:8.6px;fill:#111">SNAP23+25,STX4</text>
<line x1="566.5" y1="416.2" x2="437" y2="416.2" stroke="#111" stroke-width="0.8"/>
<path d="M433.8 416.2 L438.4 414.2 L437.4 416.2 L438.4 418.2 Z" fill="#111"/>
<g stroke="#f21616" stroke-width="3.6" stroke-linecap="butt"><line x1="492.5" y1="405.5" x2="509.5" y2="422.5"/><line x1="492.5" y1="422.5" x2="509.5" y2="405.5"/></g>
<g id="skull" fill="#3b3b3b">
<line x1="407.6" y1="422.6" x2="428.9" y2="433.3" stroke="#3b3b3b" stroke-width="3.0"/>
<circle cx="407.85" cy="421.21" r="1.9"/>
<circle cx="406.64" cy="423.63" r="1.9"/>
<circle cx="429.86" cy="432.27" r="1.9"/>
<circle cx="428.65" cy="434.69" r="1.9"/>
<line x1="424.8153024662349" y1="424.81076638988424" x2="412.4846975337651" y2="430.8892336101158" stroke="#fff" stroke-width="4.4"/>
<line x1="429.3" y1="422.6" x2="408.0" y2="433.1" stroke="#3b3b3b" stroke-width="3.0"/>
<circle cx="430.26" cy="423.63" r="1.9"/>
<circle cx="429.06" cy="421.21" r="1.9"/>
<circle cx="408.24" cy="434.49" r="1.9"/>
<circle cx="407.04" cy="432.07" r="1.9"/>
<path d="M410.85 412.3 A7.7 7.7 0 0 1 426.25 412.3 C426.25 415.6 425.0 417.4 423.2 418.4 L422.7 421.3 Q422.5 422.6 421.3 422.6 L415.8 422.6 Q414.6 422.6 414.4 421.3 L413.9 418.4 C412.1 417.4 410.85 415.6 410.85 412.3 Z" stroke="#fff" stroke-width="0.9" paint-order="stroke"/>
<ellipse cx="414.9" cy="416.1" rx="2.5" ry="1.95" fill="#fff"/><ellipse cx="422.25" cy="416.1" rx="2.5" ry="1.95" fill="#fff"/>
<path d="M418.6 417.6 L417.3 420.6 L419.9 420.6 Z" fill="#fff"/>
</g>
<text class="ct" x="419.3" y="443.9" text-anchor="middle" style="font-size:8.1px">Loss of lysosomal exocytosis</text>
<text class="ct" x="419.3" y="449.4" text-anchor="middle" style="font-size:8.1px">leads to accumulation of</text>
<text class="ct" x="419.3" y="456.3" text-anchor="middle" style="font-size:8.1px">waste/damage and cell death</text>
<rect x="512.3" y="440.2" width="75.6" height="39.4" fill="#fde3e3"/>
<path d="M588.4 452.0 L587.1 452.0 C587.1 455.5 585.6 457.4 583.2 457.4 C580.5 457.4 576.5 453.5 573.1 450.9 A11.3 11.3 0 1 0 573.1 468.9 C576.5 466.3 580.5 462.4 583.2 462.4 C585.6 462.4 587.1 464.3 587.1 467.8 L588.4 467.8 Z" fill="#fff"/>
<path d="M587.1 440.2 L587.1 452.0 C587.1 455.5 585.6 457.4 583.2 457.4 C580.5 457.4 576.5 453.5 573.1 450.9 A11.3 11.3 0 1 0 573.1 468.9 C576.5 466.3 580.5 462.4 583.2 462.4 C585.6 462.4 587.1 464.3 587.1 467.8 L587.1 479.6" fill="none" stroke="#dc7a84" stroke-width="1.6"/>
<path d="M587.1 440.2 L587.1 452.0 C587.1 455.5 585.6 457.4 583.2 457.4 C580.5 457.4 576.5 453.5 573.1 450.9 A11.3 11.3 0 1 0 573.1 468.9 C576.5 466.3 580.5 462.4 583.2 462.4 C585.6 462.4 587.1 464.3 587.1 467.8 L587.1 479.6" fill="none" stroke="#f0b8bc" stroke-width="0.45"/>
<line x1="587.2" y1="440.2" x2="587.2" y2="453" stroke="#e8707a" stroke-width="1.6"/><line x1="587.2" y1="466.8" x2="587.2" y2="479.6" stroke="#e8707a" stroke-width="1.6"/>
<circle cx="528.4" cy="459.9" r="11.5" fill="#fdeeee" stroke="#e55a64" stroke-width="1.8"/>
<circle cx="528.4" cy="459.9" r="11.5" fill="none" stroke="#f6b0b4" stroke-width="0.5"/>
<circle cx="529.1" cy="455.1" r="2.6" fill="#c8222c"/>
<circle cx="524.0" cy="464.3" r="2.2" fill="#c8222c"/>
<circle cx="533.0" cy="463.3" r="1.2" fill="#cc2a34"/>
<circle cx="522.5" cy="457.4" r="1.3" fill="#f0a088"/>
<circle cx="528.6" cy="461.4" r="1.2" fill="#f0a088"/>
<text class="ct" x="540.2" y="492.0" text-anchor="middle">Autolysosome/ autophagosome/</text>
<text class="ct" x="539.9" y="498.8" text-anchor="middle">lysosomal exocytosis</text>
<path d="M638.21 450.76 C641.27 453.33 644.60 459.70 648.20 459.70 C650.40 459.70 652.32 459.40 653.70 458.25 A12.6 12.6 0 1 1 653.70 477.55 C652.32 476.40 650.60 473.20 648.20 473.20 C645.00 473.20 640.81 473.85 638.21 476.04 A16.5 16.5 0 1 1 638.21 450.76 Z" fill="#fdeaea" stroke="#db5862" stroke-width="4.2"/>
<path d="M638.21 450.76 C641.27 453.33 644.60 459.70 648.20 459.70 C650.40 459.70 652.32 459.40 653.70 458.25 A12.6 12.6 0 1 1 653.70 477.55 C652.32 476.40 650.60 473.20 648.20 473.20 C645.00 473.20 640.81 473.85 638.21 476.04 A16.5 16.5 0 1 1 638.21 450.76 Z" fill="none" stroke="#f6c0c4" stroke-width="2.0"/>
<ellipse cx="626.9" cy="463.0" rx="13.4" ry="13.9" fill="#f4f8fd"/>
<ellipse cx="626.9" cy="463.0" rx="11.2" ry="11.8" fill="none" stroke="#5aaae2" stroke-width="0.8" stroke-dasharray="1.8 2.6"/>
<ellipse cx="626.9" cy="463.0" rx="7.2" ry="7.6" fill="none" stroke="#7cc4ec" stroke-width="0.7" stroke-dasharray="1.6 3.4" stroke-dashoffset="1.2"/>
<circle cx="619.6" cy="465.3" r="0.5" fill="#7a4fb8"/>
<line x1="616.5" y1="466.3" x2="617.9" y2="467.2" stroke="#6cc0ea" stroke-width="0.6"/>
<circle cx="618.5" cy="462.4" r="0.5" fill="#6cc0ea"/>
<line x1="630.9" y1="465.7" x2="630.7" y2="467.4" stroke="#49a6e0" stroke-width="0.6"/>
<circle cx="633.4" cy="457.6" r="0.5" fill="#49a6e0"/>
<line x1="638.9" y1="461.6" x2="638.2" y2="463.2" stroke="#49a6e0" stroke-width="0.6"/>
<circle cx="619.3" cy="455.6" r="0.5" fill="#49a6e0"/>
<line x1="630.2" y1="464.3" x2="629.7" y2="465.9" stroke="#6cc0ea" stroke-width="0.6"/>
<circle cx="627.8" cy="458.0" r="0.5" fill="#49a6e0"/>
<line x1="630.9" y1="457.0" x2="630.9" y2="458.7" stroke="#3c8fd0" stroke-width="0.6"/>
<circle cx="623.5" cy="457.4" r="0.5" fill="#3c8fd0"/>
<line x1="620.6" y1="467.2" x2="619.6" y2="468.5" stroke="#49a6e0" stroke-width="0.6"/>
<circle cx="625.3" cy="466.7" r="0.5" fill="#3c8fd0"/>
<line x1="634.5" y1="464.4" x2="635.0" y2="466.0" stroke="#49a6e0" stroke-width="0.6"/>
<circle cx="630.2" cy="458.3" r="0.5" fill="#49a6e0"/>
<line x1="627.8" y1="461.8" x2="626.1" y2="462.2" stroke="#6cc0ea" stroke-width="0.6"/>
<circle cx="632.2" cy="464.8" r="0.5" fill="#7a4fb8"/>
<line x1="620.1" y1="466.7" x2="618.8" y2="467.8" stroke="#6cc0ea" stroke-width="0.6"/>
<circle cx="626.6" cy="465.4" r="0.5" fill="#3c8fd0"/>
<line x1="632.9" y1="463.6" x2="634.4" y2="464.3" stroke="#49a6e0" stroke-width="0.6"/>
<path d="M619.74 463.50 L620.28 465.33 A2.3 2.3 0 1 1 621.33 462.44 Z" fill="#d8303a"/>
<path d="M626.48 471.00 L628.50 471.49 A2.5 2.5 0 1 1 626.35 468.92 Z" fill="#d8303a"/>
<path d="M643.34 464.29 L642.77 462.38 A2.4 2.4 0 1 1 641.67 465.40 Z" fill="#d8303a"/>
<path d="M665.26 461.89 L665.03 459.82 A2.5 2.5 0 1 1 663.35 462.72 Z" fill="#d8303a"/>
<path d="M661.04 471.99 L662.95 472.82 A2.5 2.5 0 1 1 661.27 469.92 Z" fill="#d8303a"/>
<path d="M628.00 453.35 L626.53 454.43 A2.2 2.2 0 1 1 629.47 454.43 Z" fill="#f09a9c"/>
<path d="M631.12 465.40 L629.99 463.86 A2.3 2.3 0 1 1 629.99 466.94 Z" fill="#f09a9c"/>
<path d="M649.56 468.00 L649.02 466.17 A2.3 2.3 0 1 1 647.97 469.06 Z" fill="#f09a9c"/>
<path d="M656.66 463.50 L655.07 462.44 A2.3 2.3 0 1 1 656.12 465.33 Z" fill="#f09a9c"/>
<path d="M667.89 469.89 L668.63 471.38 A2.0 2.0 0 1 1 669.10 468.74 Z" fill="#f09a9c"/>
<circle cx="623.9" cy="461" r="1.0" fill="#2a9a96"/><circle cx="634.2" cy="471" r="0.8" fill="#7a3fa8"/><circle cx="626.6" cy="463.6" r="0.5" fill="#7a3fa8"/><circle cx="632.4" cy="452.3" r="0.5" fill="#7a3fa8"/><circle cx="636.5" cy="467.5" r="0.5" fill="#7a3fa8"/>
<text class="ct" x="647.0" y="499.2" text-anchor="middle">Autophagosome</text>
<text class="ct" x="647.0" y="504.7" text-anchor="middle">degradation</text>
</g>
</svg>
</body></html>
